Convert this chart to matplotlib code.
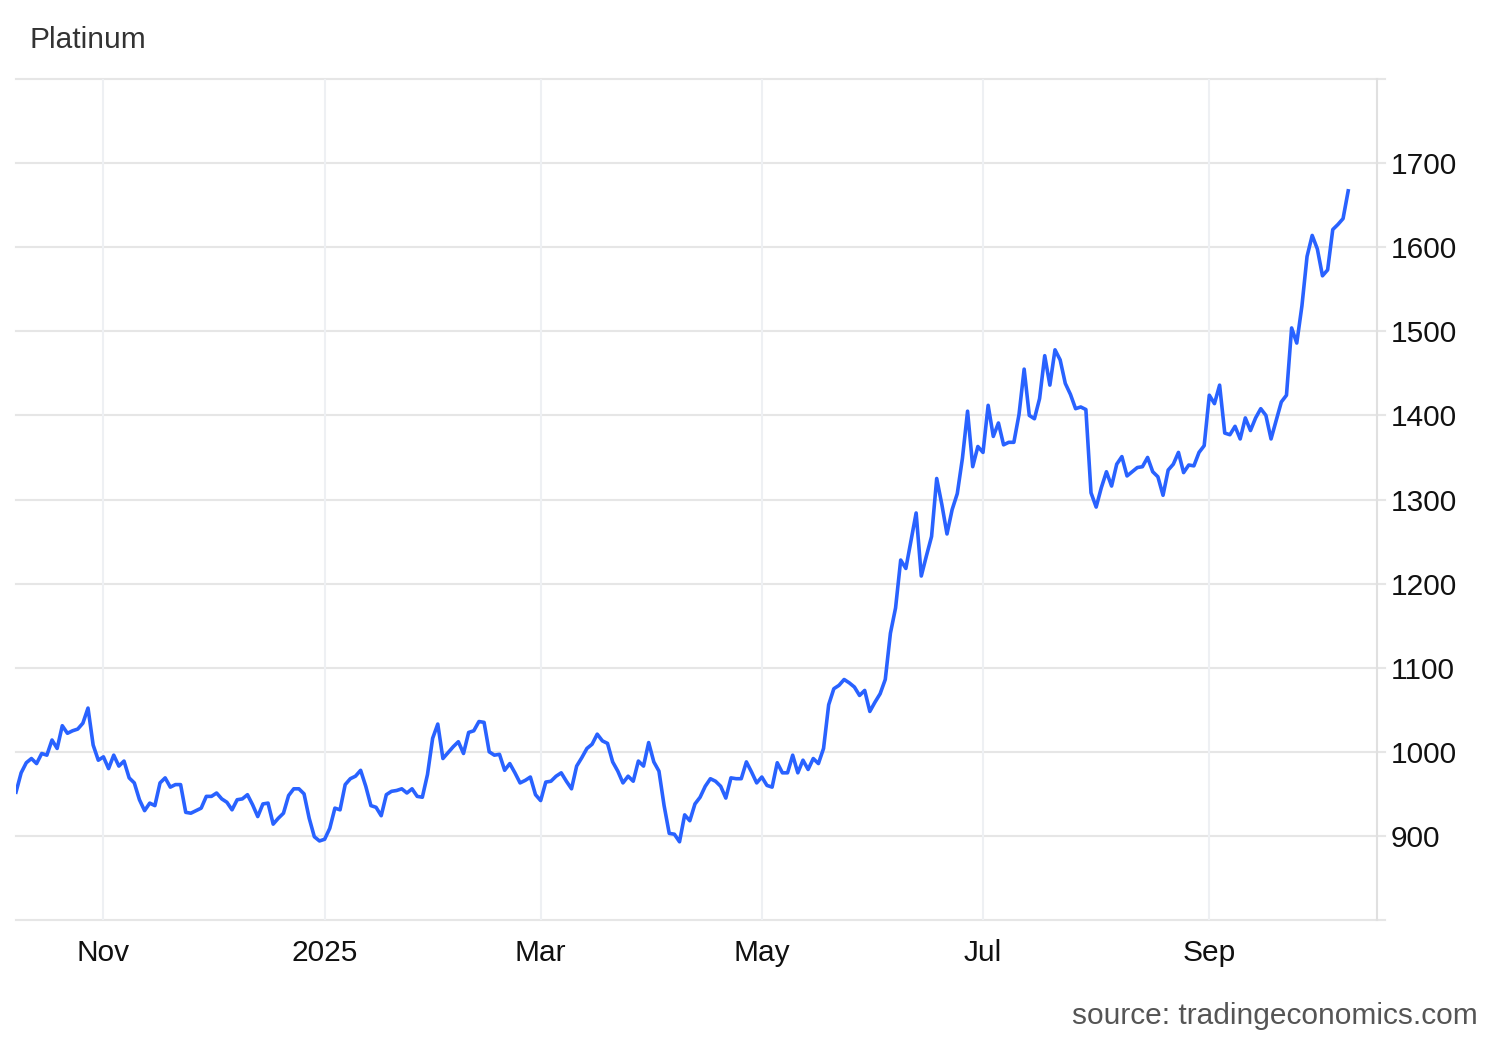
import matplotlib
matplotlib.use("Agg")
import matplotlib.pyplot as plt
import numpy as np
import pandas as pd

plt.rcParams['font.family'] = ['Liberation Sans', 'DejaVu Sans']

# trading days, Oct 9 2024 .. Oct 8 2025 (New Year closed)
dates = pd.bdate_range("2024-10-09", "2025-10-08", freq="C", holidays=["2025-01-01"])

price = [
    952, 975, 987, 992, 986, 998, 996, 1014, 1004, 1031,
    1022, 1025, 1027, 1034, 1052, 1008, 990, 994, 980, 996,
    983, 989, 969, 963, 943, 930, 939, 936, 963, 969,
    958, 961, 961, 928, 927, 930, 933, 947, 947, 951,
    944, 940, 931, 943, 944, 949, 937, 923, 938, 939,
    914, 921, 927, 948, 956, 956, 950, 921, 899, 894,
    896, 909, 933, 931, 961, 968, 971, 978, 959, 936,
    934, 924, 949, 953, 954, 956, 951, 956, 947, 946,
    973, 1016, 1033, 992, 999, 1006, 1012, 998, 1023, 1025,
    1036, 1035, 1000, 996, 997, 978, 986, 975, 963, 966,
    970, 949, 942, 964, 965, 971, 975, 965, 956, 983,
    993, 1004, 1009, 1021, 1013, 1010, 988, 977, 963, 971,
    965, 989, 983, 1011, 988, 977, 936, 903, 902, 893,
    925, 918, 938, 946, 959, 968, 965, 959, 945, 969,
    968, 968, 988, 976, 963, 970, 960, 958, 987, 975,
    975, 996, 975, 990, 979, 992, 986, 1004, 1056, 1075,
    1079, 1086, 1082, 1077, 1067, 1073, 1048, 1059, 1069, 1086,
    1141, 1171, 1228, 1218, 1251, 1284, 1209, 1233, 1256, 1325,
    1294, 1259, 1288, 1307, 1349, 1405, 1339, 1363, 1356, 1412,
    1375, 1391, 1365, 1368, 1368, 1401, 1455, 1400, 1396, 1420,
    1471, 1436, 1478, 1466, 1438, 1425, 1408, 1410, 1407, 1308,
    1291, 1314, 1333, 1316, 1342, 1351, 1328, 1333, 1338, 1339,
    1350, 1333, 1327, 1305, 1335, 1342, 1356, 1332, 1341, 1340,
    1356, 1364, 1424, 1414, 1436, 1379, 1377, 1387, 1372, 1397,
    1382, 1397, 1408, 1400, 1372, 1394, 1416, 1424, 1504, 1486,
    1530, 1589, 1614, 1598, 1566, 1573, 1621, 1627, 1634, 1667,
]

tick_months = ["2024-11-01", "2025-01-01", "2025-03-01", "2025-05-01", "2025-07-01", "2025-09-01"]
tick_labels = ["Nov", "2025", "Mar", "May", "Jul", "Sep"]
y_ticks = [900, 1000, 1100, 1200, 1300, 1400, 1500, 1600, 1700]

x = np.arange(len(price))
tick_pos = np.searchsorted(dates, pd.to_datetime(tick_months))

fig = plt.figure(figsize=(15, 10.4), dpi=100)
ax = fig.add_axes([16 / 1500, 1 - 920 / 1040, (1377 - 16) / 1500, (920 - 79) / 1040])

grid_c = "#e6e6e6"
for v in range(800, 1801, 100):
    ax.plot([0, 1.006], [v, v], color=grid_c, lw=1.5, transform=ax.get_yaxis_transform(),
            clip_on=False, zorder=0)
for p in tick_pos:
    ax.axvline(p, color="#eef0f3", lw=1.5, zorder=0)

ax.plot(x, price, color="#2962ff", lw=2.6, solid_joinstyle="round", zorder=3)

ax.set_xlim(0, 264.6)
ax.set_ylim(800, 1800)

for s in ["top", "left", "bottom"]:
    ax.spines[s].set_visible(False)
ax.spines["right"].set_color("#e0e0e0")
ax.spines["right"].set_linewidth(1.5)

ax.yaxis.tick_right()
ax.set_yticks(y_ticks)
ax.set_yticklabels([str(v) for v in y_ticks])
ax.tick_params(axis="y", length=0, pad=10, labelsize=21.5, labelcolor="#111111")
ax.set_xticks(tick_pos)
ax.set_xticklabels(tick_labels)
ax.tick_params(axis="x", length=0, pad=14, labelsize=21.5, labelcolor="#111111")

fig.text(29 / 1500, 1 - 40 / 1040, "Platinum", fontsize=21.5, color="#333333",
         ha="left", va="center")
fig.text(1478 / 1500, 1 - 1016 / 1040, "source: tradingeconomics.com", fontsize=21.5,
         color="#555555", ha="right", va="center")

fig.savefig("out.png", dpi=100)
